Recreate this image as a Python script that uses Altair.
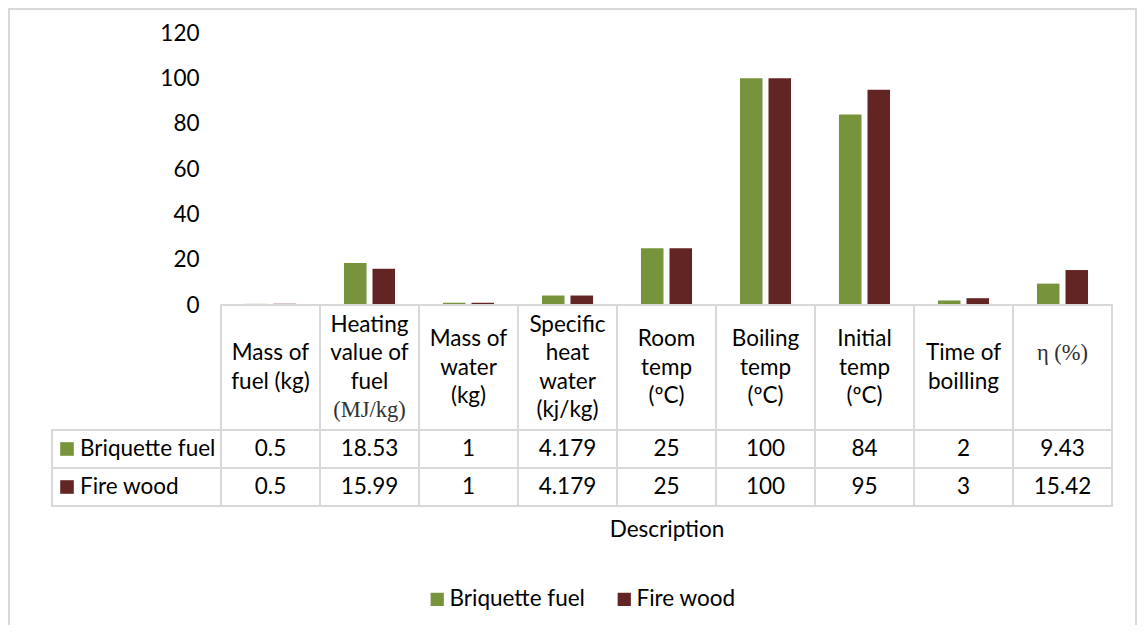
import altair as alt
import pandas as pd

# ---- data -------------------------------------------------------------
categories = [
    "Mass of fuel (kg)",
    "Heating value of fuel (MJ/kg)",
    "Mass of water (kg)",
    "Specific heat water (kj/kg)",
    "Room temp (ºC)",
    "Boiling temp (ºC)",
    "Initial temp (ºC)",
    "Time of boilling",
    "η (%)",
]
header_sans = [
    "Mass of\nfuel (kg)",
    "Heating\nvalue of\nfuel\n(MJ/kg)",
    "Mass of\nwater\n(kg)",
    "Specific\nheat\nwater\n(kj/kg)",
    "Room\ntemp\n(ºC)",
    "Boiling\ntemp\n(ºC)",
    "Initial\ntemp\n(ºC)",
    "Time of\nboilling",
    "η (%)",
]
# header lines that are set in a serif face in the original (category, line text)
serif_lines = ["(MJ/kg)", "η (%)"]
series = ["Briquette fuel", "Fire wood"]
briquette = [0.5, 18.53, 1, 4.179, 25, 100, 84, 2, 9.43]
firewood = [0.5, 15.99, 1, 4.179, 25, 100, 95, 3, 15.42]
colors = ["#77933C", "#632523"]
y_ticks = [0, 20, 40, 60, 80, 100, 120]

# ---- style ------------------------------------------------------------
FONT = "Lato"
SERIF = "Liberation Serif"
FS = 22.5
LH = 28.3
GRID = "#d9d9d9"
TXT = "#000000"
W, H = 891, 473
BAR_BOTTOM = 272
HEADER_BOTTOM = 397
LABEL_COL = 169

rows = []
for s, vals in zip(series, [briquette, firewood]):
    for c, v in zip(categories, vals):
        rows.append({"cat": c, "series": s, "value": v, "label": f"{v:g}"})
df = pd.DataFrame(rows)

# split header texts into lines; each line gets its slot in the 4-line grid
hdr_rows = []
for c, t in zip(categories, header_sans):
    lines = t.split("\n")
    n = len(lines)
    for i, ln in enumerate(lines):
        serif = ln in serif_lines
        # η (%) sits one line above centre in the original
        slot = (i - (n - 1) / 2) if not (serif and n == 1) else -0.5
        hdr_rows.append({"cat": c, "row": "h", "text": ln,
                         "font": "serif" if serif else "sans", "slot": slot})
hdr = pd.DataFrame(hdr_rows)
labdf = pd.DataFrame({"col": ["lab"] * len(series), "series": series})


def xcat(axis=None):
    return alt.X("cat:N", scale=alt.Scale(type="band", domain=categories,
                                          paddingInner=0, paddingOuter=0),
                 axis=axis, title=None)


def ycol_header():
    return alt.Y("row:N", scale=alt.Scale(type="band", domain=["h"],
                                          range=[BAR_BOTTOM, HEADER_BOTTOM],
                                          paddingInner=0, paddingOuter=0), axis=None)


def yrows():
    return alt.Y("series:N", scale=alt.Scale(type="band", domain=series, range=[HEADER_BOTTOM, H],
                                             paddingInner=0, paddingOuter=0), axis=None)


def xlab(rng):
    return alt.X("col:N", scale=alt.Scale(type="band", domain=["lab"], range=rng,
                                          paddingInner=0, paddingOuter=0), axis=None)


color = alt.Color(
    "series:N",
    scale=alt.Scale(domain=series, range=colors),
    legend=alt.Legend(
        orient="none", legendX=205, legendY=555, direction="horizontal",
        title=None, symbolType="square", symbolSize=175, symbolStrokeWidth=0,
        labelFont=FONT, labelFontSize=FS, labelColor=TXT, columnPadding=28,
        labelOffset=1, padding=0,
    ),
)

frame = alt.Chart(pd.DataFrame({"k": [0]})).mark_rect(
    fillOpacity=0, stroke=GRID, strokeWidth=2
).encode(x=alt.value(-212), x2=alt.value(915), y=alt.value(-24), y2=alt.value(720))

bars = alt.Chart(df).mark_bar().encode(
    x=xcat(),
    xOffset=alt.XOffset("series:N", scale=alt.Scale(domain=series, paddingInner=0.21,
                                                    paddingOuter=0.84)),
    y=alt.Y("value:Q",
            scale=alt.Scale(domain=[0, 120], range=[BAR_BOTTOM, 0], nice=False),
            axis=alt.Axis(orient="left", values=y_ticks, domain=False, ticks=False, grid=False,
                          labelFont=FONT, labelFontSize=FS, labelColor=TXT, labelPadding=22),
            title=None),
    color=color,
)

hdr_cells = alt.Chart(pd.DataFrame({"cat": categories, "row": ["h"] * len(categories)})).mark_rect(
    fill="white", stroke=GRID, strokeWidth=2
).encode(x=xcat(), y=ycol_header())

hdr_layers = []
for fam, fnt, col in [("sans", FONT, TXT), ("serif", SERIF, "#303030")]:
    for slot in sorted(hdr.loc[hdr["font"] == fam, "slot"].unique()):
        sub = hdr[(hdr["font"] == fam) & (hdr["slot"] == slot)]
        hdr_layers.append(
            alt.Chart(sub).mark_text(
                font=fnt, fontSize=FS, color=col,
                align="center", baseline="middle", dy=float(slot) * LH,
            ).encode(x=xcat(), y=ycol_header(), text="text:N")
        )

row_cells = alt.Chart(df).mark_rect(fill="white", stroke=GRID, strokeWidth=2).encode(
    x=xcat(alt.Axis(orient="bottom", labels=False, ticks=False, domain=False, grid=False,
                    title="Description", titleFont=FONT, titleFontSize=FS,
                    titleFontWeight="normal", titleColor=TXT, titlePadding=12)),
    y=yrows(),
)
row_text = alt.Chart(df).mark_text(
    font=FONT, fontSize=FS, color=TXT, align="center", baseline="middle"
).encode(x=xcat(), y=yrows(), text="label:N")

lab_cells = alt.Chart(labdf).mark_rect(fill="white", stroke=GRID, strokeWidth=2).encode(
    x=xlab([-LABEL_COL, 0]), y=yrows()
)
lab_sq = alt.Chart(labdf).mark_point(shape="square", filled=True, opacity=1, size=185).encode(
    x=xlab([-LABEL_COL, -LABEL_COL + 30]), y=yrows(), color=color
)
lab_text = alt.Chart(labdf).mark_text(
    font=FONT, fontSize=FS, color=TXT, align="left", baseline="middle", dx=28 - LABEL_COL / 2
).encode(x=xlab([-LABEL_COL, 0]), y=yrows(), text="series:N")

chart = (
    alt.layer(frame, bars, hdr_cells, *hdr_layers, row_cells, row_text,
              lab_cells, lab_sq, lab_text)
    .resolve_scale(x="independent", y="independent", color="shared")
    .properties(
        width=W, height=H,
        padding={"left": 213, "top": 25, "right": 25, "bottom": 119},
        autosize=alt.AutoSizeParams(type="none"),
        background="white",
    )
    .configure_view(strokeWidth=0)
)

chart.save("out.html", embed_options={"renderer": "svg", "actions": False})
